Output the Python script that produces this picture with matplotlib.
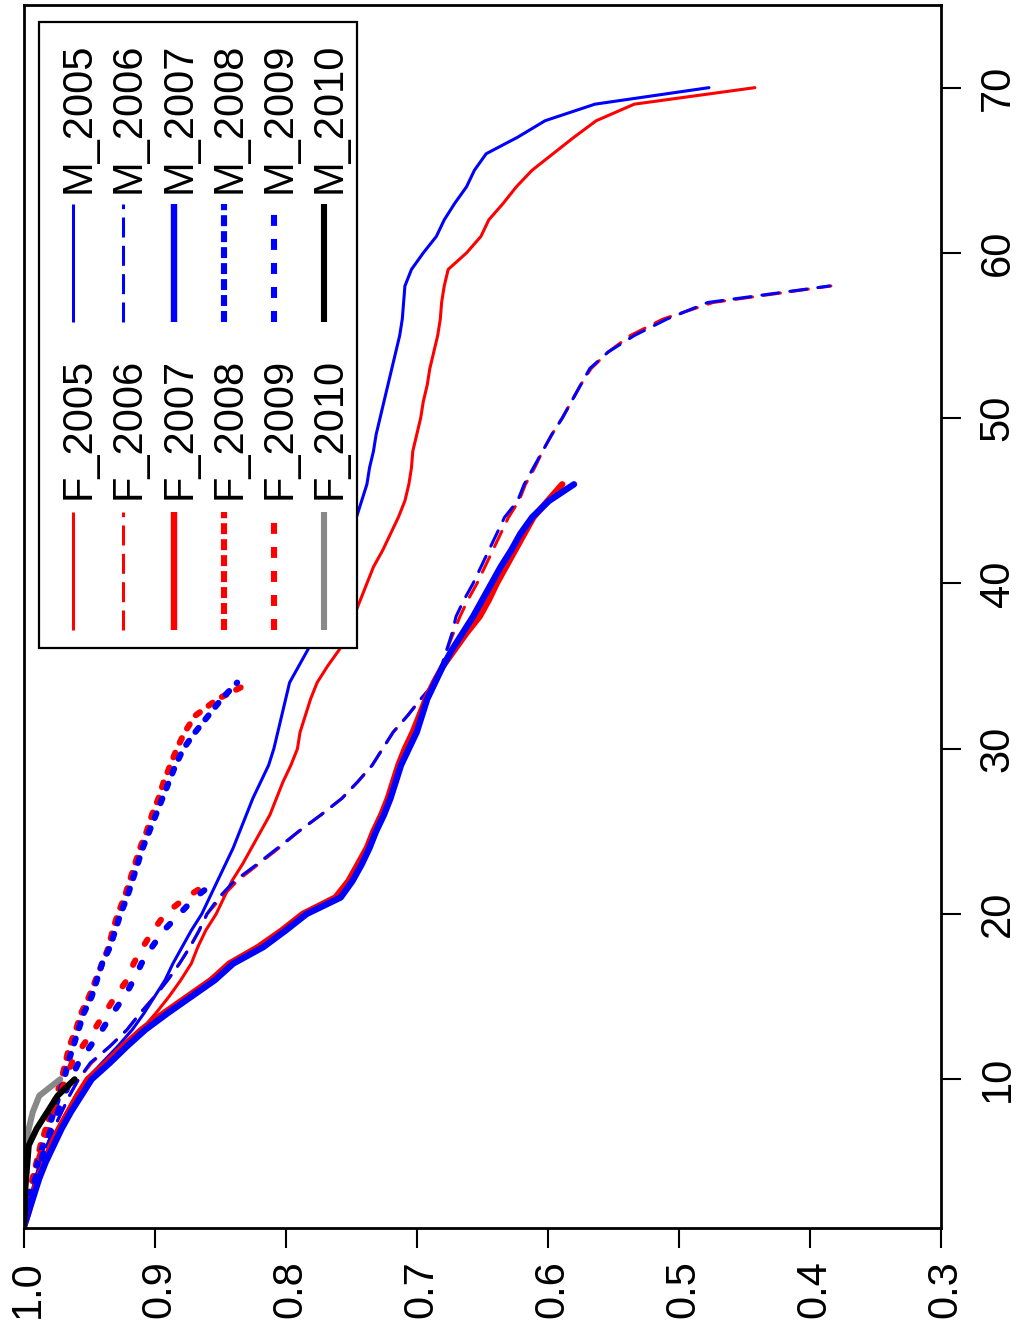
import matplotlib
matplotlib.use("Agg")
import matplotlib.pyplot as plt
from matplotlib.patches import Rectangle
from matplotlib.transforms import Affine2D

plt.rcParams['font.family'] = ['Liberation Sans', 'DejaVu Sans']
plt.rcParams['lines.scale_dashes'] = False

# survival-type curves, one value per age (age 1 .. last age of the cohort)
YEARS = [2005, 2006, 2007, 2008, 2009, 2010]

F_2005 = [1.000, 0.997, 0.994, 0.990, 0.985, 0.980, 0.974, 0.967, 0.960, 0.952,
          0.935, 0.922, 0.910, 0.899, 0.889, 0.880, 0.872, 0.867, 0.861, 0.853,
          0.847, 0.841, 0.833, 0.826, 0.819, 0.812, 0.807, 0.802, 0.796, 0.791,
          0.789, 0.785, 0.781, 0.776, 0.768, 0.759, 0.753, 0.748, 0.743, 0.738,
          0.733, 0.726, 0.720, 0.714, 0.709, 0.706, 0.704, 0.703, 0.700, 0.697,
          0.695, 0.692, 0.690, 0.687, 0.684, 0.682, 0.681, 0.679, 0.676, 0.662,
          0.651, 0.645, 0.634, 0.624, 0.612, 0.596, 0.580, 0.563, 0.534, 0.442]
M_2005 = [1.000, 0.997, 0.994, 0.990, 0.985, 0.980, 0.974, 0.967, 0.960, 0.952,
          0.940, 0.928, 0.917, 0.908, 0.900, 0.892, 0.886, 0.879, 0.872, 0.864,
          0.858, 0.852, 0.846, 0.840, 0.835, 0.830, 0.825, 0.819, 0.813, 0.809,
          0.806, 0.803, 0.800, 0.797, 0.790, 0.783, 0.777, 0.771, 0.766, 0.762,
          0.758, 0.754, 0.750, 0.746, 0.742, 0.738, 0.736, 0.733, 0.731, 0.728,
          0.725, 0.722, 0.719, 0.716, 0.713, 0.711, 0.710, 0.709, 0.704, 0.695,
          0.685, 0.679, 0.671, 0.662, 0.656, 0.647, 0.623, 0.602, 0.564, 0.477]
F_2006 = [1.000, 0.997, 0.994, 0.991, 0.987, 0.982, 0.977, 0.971, 0.965, 0.958,
          0.948, 0.934, 0.921, 0.911, 0.900, 0.890, 0.881, 0.873, 0.866, 0.860,
          0.849, 0.837, 0.821, 0.805, 0.790, 0.773, 0.757, 0.745, 0.734, 0.726,
          0.718, 0.707, 0.697, 0.686, 0.681, 0.677, 0.672, 0.667, 0.661, 0.654,
          0.648, 0.642, 0.636, 0.630, 0.622, 0.617, 0.610, 0.604, 0.597, 0.589,
          0.582, 0.575, 0.567, 0.554, 0.537, 0.512, 0.474, 0.384]
M_2006 = [1.000, 0.997, 0.994, 0.991, 0.987, 0.982, 0.977, 0.971, 0.965, 0.958,
          0.949, 0.934, 0.921, 0.911, 0.900, 0.890, 0.881, 0.873, 0.866, 0.860,
          0.851, 0.839, 0.822, 0.806, 0.790, 0.773, 0.757, 0.745, 0.734, 0.726,
          0.718, 0.707, 0.697, 0.686, 0.681, 0.677, 0.673, 0.670, 0.664, 0.657,
          0.651, 0.645, 0.639, 0.633, 0.623, 0.618, 0.611, 0.604, 0.597, 0.589,
          0.582, 0.575, 0.568, 0.554, 0.534, 0.509, 0.478, 0.385]
F_2007 = [1.000, 0.996, 0.993, 0.989, 0.984, 0.979, 0.973, 0.966, 0.959, 0.951,
          0.937, 0.924, 0.910, 0.893, 0.875, 0.857, 0.843, 0.821, 0.803, 0.787,
          0.762, 0.752, 0.745, 0.738, 0.733, 0.727, 0.722, 0.718, 0.714, 0.709,
          0.703, 0.698, 0.693, 0.687, 0.680, 0.671, 0.662, 0.652, 0.645, 0.639,
          0.632, 0.625, 0.618, 0.611, 0.600, 0.589]
M_2007 = [1.000, 0.996, 0.992, 0.988, 0.983, 0.977, 0.971, 0.964, 0.956, 0.948,
          0.934, 0.921, 0.907, 0.890, 0.872, 0.854, 0.840, 0.817, 0.800, 0.784,
          0.758, 0.749, 0.742, 0.736, 0.731, 0.725, 0.720, 0.716, 0.712, 0.706,
          0.700, 0.696, 0.692, 0.686, 0.680, 0.673, 0.665, 0.657, 0.650, 0.643,
          0.636, 0.628, 0.621, 0.612, 0.599, 0.580]
F_2008 = [1.000, 0.998, 0.996, 0.993, 0.990, 0.987, 0.983, 0.979, 0.975, 0.971,
          0.968, 0.965, 0.960, 0.956, 0.950, 0.945, 0.940, 0.935, 0.932, 0.928,
          0.923, 0.919, 0.915, 0.911, 0.906, 0.902, 0.897, 0.893, 0.888, 0.883,
          0.877, 0.869, 0.852, 0.827]
M_2008 = [1.000, 0.998, 0.995, 0.992, 0.989, 0.985, 0.981, 0.977, 0.973, 0.969,
          0.966, 0.962, 0.958, 0.954, 0.948, 0.944, 0.940, 0.934, 0.930, 0.926,
          0.921, 0.917, 0.913, 0.909, 0.904, 0.899, 0.894, 0.889, 0.884, 0.878,
          0.869, 0.859, 0.849, 0.837]
F_2009 = [1.000, 0.998, 0.995, 0.992, 0.989, 0.985, 0.981, 0.977, 0.972, 0.968,
          0.963, 0.955, 0.946, 0.938, 0.930, 0.921, 0.916, 0.909, 0.901, 0.892,
          0.876, 0.856]
M_2009 = [1.000, 0.997, 0.994, 0.991, 0.987, 0.983, 0.979, 0.974, 0.969, 0.964,
          0.958, 0.949, 0.940, 0.932, 0.923, 0.916, 0.910, 0.902, 0.893, 0.881,
          0.869, 0.853]
F_2010 = [1.000, 1.000, 0.999, 0.999, 0.998, 0.998, 0.996, 0.993, 0.988, 0.972]
M_2010 = [1.000, 0.999, 0.999, 0.998, 0.997, 0.996, 0.990, 0.982, 0.974, 0.961]

FEMALE = {2005: F_2005, 2006: F_2006, 2007: F_2007, 2008: F_2008, 2009: F_2009, 2010: F_2010}
MALE = {2005: M_2005, 2006: M_2006, 2007: M_2007, 2008: M_2008, 2009: M_2009, 2010: M_2010}

SURV_TICKS = [1.0, 0.9, 0.8, 0.7, 0.6, 0.5, 0.4, 0.3]
AGE_TICKS = [10, 20, 30, 40, 50, 60, 70]

# line styles: (linewidth pt, plot dashes, legend dashes)
STYLE = {
    2005: (2.2, None, None),
    2006: (2.2, (12.2, 8.1), (14.4, 6.0)),
    2007: (4.6, None, None),
    2008: (4.4, (3.6, 7.9), (7.9, 3.6)),
    2009: (4.4, (3.6, 13.7), (7.9, 9.4)),
    2010: (4.4, None, None),
}
F_COLOR = {y: 'red' for y in YEARS}
F_COLOR[2010] = '#888888'
M_COLOR = {y: 'blue' for y in YEARS}
M_COLOR[2010] = 'black'

W, H = 1017, 1325
fig = plt.figure(figsize=(W / 100, H / 100), dpi=100)
ax = fig.add_axes([23.5 / W, 1 - 1228 / H, (941 - 23.5) / W, (1228 - 5) / H])

# the chart is the usual R plot turned a quarter turn: survival runs
# along the bottom (reversed), age runs up the right side
for yr in YEARS:
    lw, dash, _ = STYLE[yr]
    for vals, col in ((FEMALE[yr], F_COLOR[yr]), (MALE[yr], M_COLOR[yr])):
        ages = list(range(1, len(vals) + 1))
        ls = '-' if dash is None else (0, dash)
        ax.plot(vals, ages, color=col, lw=lw, ls=ls,
                solid_capstyle='round', dash_capstyle='round',
                solid_joinstyle='round', dash_joinstyle='round')

ax.set_xlim(1.0, 0.3)
ax.set_ylim(1, 75)
for s in ax.spines.values():
    s.set_linewidth(2.0)

ax.yaxis.tick_right()
ax.set_xticks(SURV_TICKS, [f'{v:.1f}' for v in SURV_TICKS])
ax.set_yticks(AGE_TICKS, [str(a) for a in AGE_TICKS])
ax.tick_params(axis='both', direction='out', length=14.4, width=1.5, labelsize=30)
ax.tick_params(axis='x', pad=8.6)
ax.tick_params(axis='y', pad=12)
for lab in ax.get_xticklabels():
    lab.set(rotation=90, rotation_mode='anchor', ha='right', va='center_baseline')
for lab in ax.get_yticklabels():
    lab.set(rotation=90, rotation_mode='anchor', ha='center', va='top')

# legend, drawn by hand because its text runs vertically
pix = Affine2D().scale(1 / W, -1 / H).translate(0, 1) + fig.transFigure
ax.add_patch(Rectangle((39, 22), 318, 626, transform=pix, facecolor='white',
                       edgecolor='black', lw=1.6, zorder=10, clip_on=False))
for i, yr in enumerate(YEARS):
    lw, _, ldash = STYLE[yr]
    ls = '-' if ldash is None else (0, ldash)
    lx = 73.3 + 50.1 * i
    tx = 90 + 50.1 * i
    for (y0, y1), ty, col, name in (((630, 512), 499, F_COLOR[yr], f'F_{yr}'),
                                    ((322, 204), 193, M_COLOR[yr], f'M_{yr}')):
        ax.plot([lx, lx], [y0, y1], transform=pix, color=col, lw=lw, ls=ls,
                solid_capstyle='butt', dash_capstyle='butt', zorder=11, clip_on=False)
        ax.text(tx, ty, name, transform=pix, rotation=90, rotation_mode='anchor',
                ha='left', va='baseline', fontsize=30, zorder=12)

fig.savefig('out.png', dpi=100)
